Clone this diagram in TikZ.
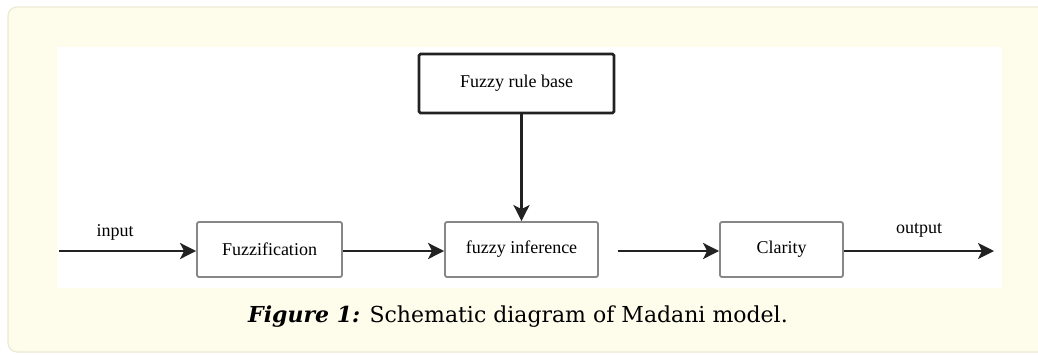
\documentclass[tikz,border=0pt]{standalone}
\usepackage{fontspec}
\setmainfont{Liberation Serif}
\newfontfamily\capfont{DejaVu Serif}
\usetikzlibrary{arrows.meta,positioning}
\definecolor{panelcream}{RGB}{254,252,234}
\definecolor{panelrim}{RGB}{236,233,214}
\definecolor{boxgrey}{RGB}{135,135,135}
\definecolor{inkdark}{RGB}{34,34,34}
\tikzset{
    blockbox/.style={draw=boxgrey, line width=1.8pt, rounded corners=2pt, fill=white,
        minimum height=55pt, font=\fontsize{18}{21}\selectfont},
    rulebox/.style={draw=inkdark, line width=2.8pt, rounded corners=1.5pt, fill=white,
        minimum width=195pt, minimum height=59pt, font=\fontsize{18}{21}\selectfont},
    flow/.style={draw=inkdark, line width=2.6pt,
        -{Stealth[length=16pt,width=16pt,inset=4pt]}},
    signal/.style={font=\fontsize{18}{21}\selectfont}
}
\begin{document}
\begin{tikzpicture}[x=1pt,y=-1pt]
    \useasboundingbox (0,0) rectangle (1038,354);
    \clip (0,0) rectangle (1038,354);

    % Cream panel and white figure area
    \draw[fill=panelcream, draw=panelrim, line width=1.2pt, rounded corners=9pt] (8,7) rectangle (1060,352);
    \fill[white] (57,47) rectangle (1002,288);

    % Blocks
    \node[rulebox] (rulebase) at (516.5,83.5) {Fuzzy rule base};
    \node[blockbox, minimum width=145pt] (fuzz) at (269.5,249.5) {Fuzzification};
    \node[blockbox, minimum width=153pt] (infer) at (521.5,249.5) {fuzzy inference};
    \node[blockbox, minimum width=123pt] (clarity) at (781.5,249.5) {Clarity};

    % Free ends of the signal line
    \coordinate (src) at (59,251);
    \coordinate (sink) at (994,251);

    % Connectors
    \draw[flow] (src) -- (src -| fuzz.west);
    \draw[flow] (fuzz.east |- src) -- (src -| infer.west);
    \draw[flow] ([xshift=19pt]infer.east |- src) -- (src -| clarity.west);
    \draw[flow] (clarity.east |- src) -- (sink);
    \draw[flow] (rulebase.south -| infer.north) -- (infer.north);

    % Signal labels
    \node[signal] (inlabel) at (115,232) {input};
    \node[signal] (outlabel) at (919,230) {output};

    % Caption
    \node[font=\capfont\fontsize{22}{26}\selectfont] (caption) at (518,317)
        {\textbf{\textit{Figure 1:}} Schematic diagram of Madani model.};
\end{tikzpicture}
\end{document}
